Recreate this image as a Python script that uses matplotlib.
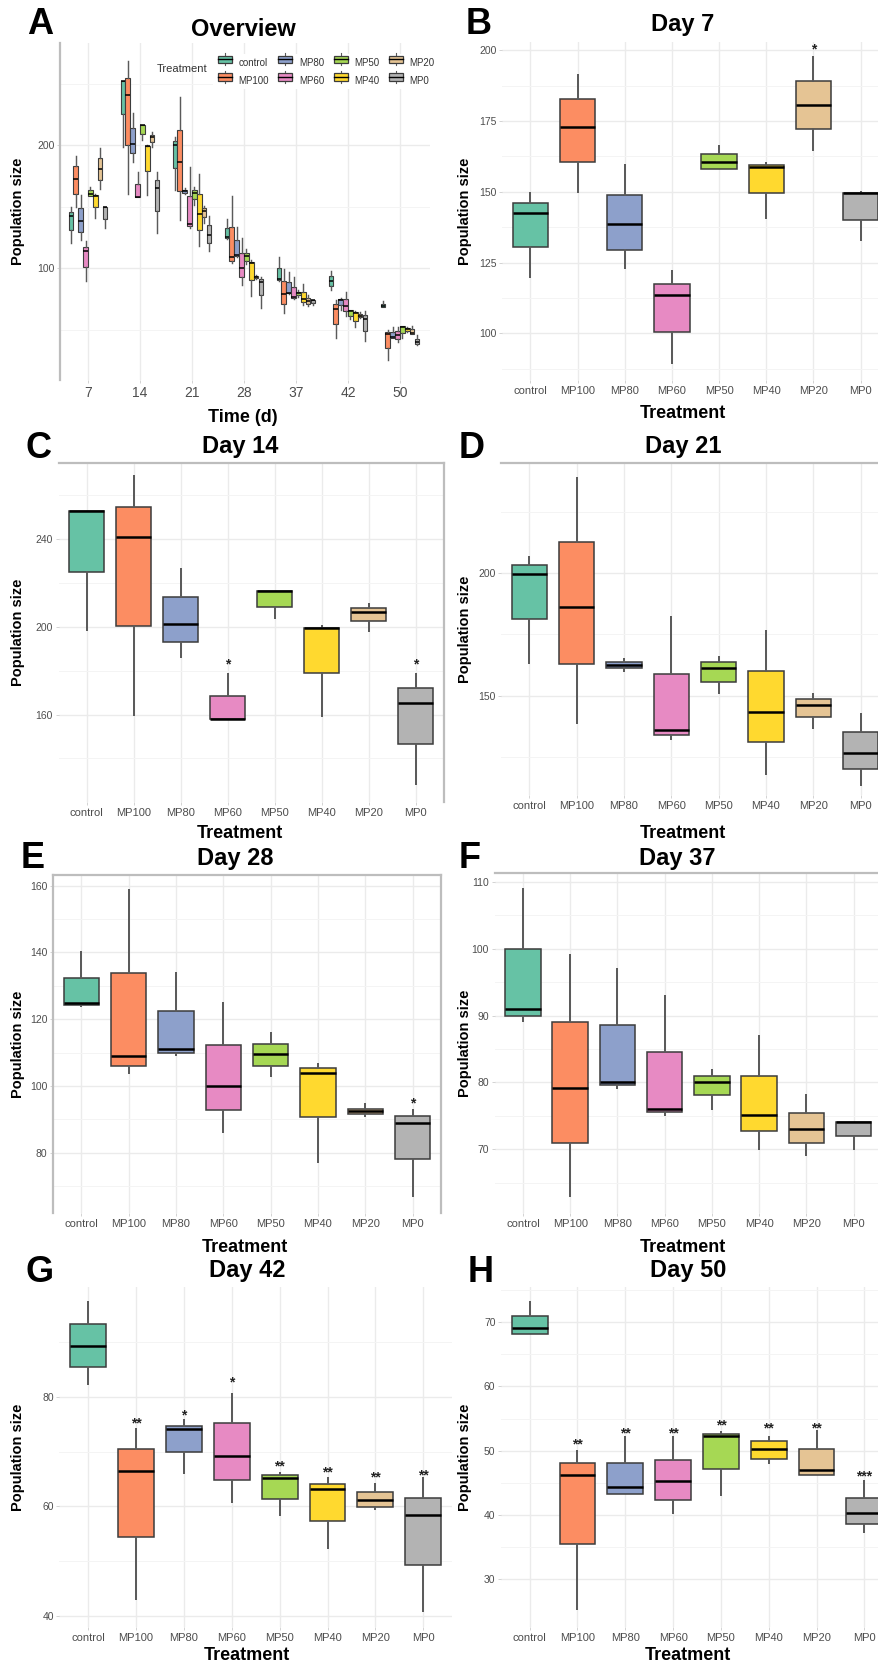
import matplotlib
matplotlib.use("Agg")
import matplotlib.pyplot as plt
from matplotlib.patches import Rectangle
from matplotlib.lines import Line2D
from matplotlib.legend_handler import HandlerBase

plt.rcParams['font.family'] = ['Liberation Sans', 'DejaVu Sans']

W, H = 879, 1666

treatments = ['control', 'MP100', 'MP80', 'MP60', 'MP50', 'MP40', 'MP20', 'MP0']
colors = ['#66C2A5', '#FC8D62', '#8DA0CB', '#E78AC3', '#A6D854', '#FFD92F', '#E5C494', '#B3B3B3']
days = [7, 14, 21, 28, 37, 42, 50]

# per treatment: [lower whisker, Q1, median, Q3, upper whisker]
day7 = [[120.0, 130.6, 142.4, 145.9, 149.4],
        [150.0, 160.6, 172.8, 182.6, 191.2],
        [122.9, 129.4, 138.5, 148.8, 159.4],
        [89.4, 100.6, 113.5, 117.4, 122.1],
        [158.2, 158.2, 160.6, 163.5, 166.2],
        [140.6, 149.6, 158.8, 159.6, 160.2],
        [164.7, 172.0, 180.6, 189.1, 197.6],
        [132.9, 140.0, 149.6, 149.6, 149.8]]
day14 = [[198.5, 225.1, 252.5, 252.5, 252.5],
         [160.0, 200.3, 240.8, 254.4, 268.4],
         [186.0, 193.2, 201.1, 213.7, 226.2],
         [157.9, 157.9, 157.9, 168.5, 178.4],
         [203.8, 209.1, 216.3, 216.3, 216.3],
         [159.2, 178.7, 199.2, 199.5, 200.3],
         [198.2, 202.6, 206.8, 208.4, 210.3],
         [128.2, 146.5, 165.3, 171.9, 178.4]]
day21 = [[163.3, 181.4, 199.7, 203.4, 206.5],
         [139.1, 162.9, 186.1, 212.5, 238.7],
         [160.3, 161.3, 162.6, 163.6, 164.9],
         [132.3, 134.1, 136.1, 159.0, 182.1],
         [151.1, 155.8, 161.3, 163.6, 166.0],
         [118.2, 131.0, 143.6, 160.3, 176.2],
         [136.8, 141.3, 146.3, 148.6, 150.8],
         [113.7, 120.1, 126.6, 135.1, 142.7]]
day28 = [[124.0, 124.3, 125.0, 132.5, 140.0],
         [104.0, 106.1, 109.1, 133.8, 158.7],
         [109.3, 110.0, 111.0, 122.5, 133.8],
         [86.2, 92.9, 100.1, 112.3, 124.8],
         [103.0, 106.0, 109.5, 112.6, 115.8],
         [77.2, 90.6, 103.8, 105.3, 106.6],
         [91.1, 91.6, 92.4, 93.2, 94.6],
         [67.2, 78.1, 88.9, 91.1, 92.9]]
day37 = [[89.2, 90.0, 91.0, 100.0, 108.9],
         [63.1, 71.0, 79.2, 89.1, 99.0],
         [79.2, 79.6, 80.0, 88.6, 97.0],
         [75.1, 75.6, 76.1, 84.5, 92.9],
         [76.1, 78.2, 80.0, 80.9, 81.9],
         [70.0, 72.7, 75.1, 80.9, 86.9],
         [69.1, 71.0, 73.1, 75.5, 78.1],
         [70.0, 72.0, 74.1, 74.1, 74.1]]
day42 = [[82.3, 85.4, 89.3, 93.4, 97.4],
         [43.1, 54.4, 66.4, 70.4, 74.2],
         [66.0, 69.9, 74.2, 74.7, 75.7],
         [60.8, 64.8, 69.1, 75.2, 80.6],
         [58.4, 61.3, 65.2, 65.7, 66.0],
         [52.3, 57.3, 63.2, 64.1, 65.1],
         [59.4, 59.9, 61.2, 62.6, 64.1],
         [40.8, 49.2, 58.4, 61.5, 65.1]]
day50 = [[68.2, 68.2, 69.1, 71.0, 73.1],
         [25.3, 35.4, 46.2, 48.0, 50.0],
         [43.2, 43.2, 44.3, 48.0, 52.1],
         [40.2, 42.3, 45.3, 48.5, 52.1],
         [43.1, 47.2, 52.2, 52.6, 52.9],
         [48.0, 48.7, 50.3, 51.5, 52.1],
         [46.2, 46.2, 47.0, 50.2, 53.0],
         [37.3, 38.6, 40.3, 42.6, 45.2]]

# significance labels and their heights
day7_sig = ['', '', '', '', '', '', '*', '']
day7_sig_y = [0, 0, 0, 0, 0, 0, 200.2, 0]
day14_sig = ['', '', '', '*', '', '', '', '*']
day14_sig_y = [0, 0, 0, 182.8, 0, 0, 0, 182.8]
day21_sig = [''] * 8
day21_sig_y = [0] * 8
day28_sig = ['', '', '', '', '', '', '', '*']
day28_sig_y = [0, 0, 0, 0, 0, 0, 0, 94.9]
day37_sig = [''] * 8
day37_sig_y = [0] * 8
day42_sig = ['', '**', '*', '*', '**', '**', '**', '**']
day42_sig_y = [0, 75.2, 76.6, 82.7, 67.3, 66.1, 65.2, 65.7]
day50_sig = ['', '**', '**', '**', '**', '**', '**', '***']
day50_sig_y = [0, 51.0, 52.7, 52.7, 53.9, 53.5, 53.5, 46.0]

all_days = [day7, day14, day21, day28, day37, day42, day50]

fig = plt.figure(figsize=(W / 100, H / 100), dpi=100)
fig.patch.set_facecolor('white')

GRID = '#EBEBEB'
TICK = '#4D4D4D'
BORDER = '#BDBDBD'


def rect(l, t, r, b):
    return [l / W, 1 - b / H, (r - l) / W, (b - t) / H]


def ftext(x, y, s, **kw):
    fig.text(x / W, 1 - y / H, s, ha='center', va='center', **kw)


def style(ax, yticks, yminor, spines):
    ax.set_facecolor('none')
    for side, sp in ax.spines.items():
        sp.set_visible(side in spines)
        sp.set_color(BORDER)
        sp.set_linewidth(1.6)
    ax.set_yticks(yticks)
    ax.set_yticks(yminor, minor=True)
    ax.grid(True, which='major', color=GRID, lw=1.0)
    ax.grid(True, which='minor', axis='y', color='#F4F4F4', lw=0.7)
    ax.set_axisbelow(True)
    ax.tick_params(which='major', length=2, width=0.6, color='#CCCCCC', labelcolor=TICK, pad=2)
    ax.tick_params(which='minor', length=0)


def draw_boxes(ax, data, positions, width, lw_box, lw_med):
    stats = [dict(whislo=d[0], q1=d[1], med=d[2], q3=d[3], whishi=d[4], fliers=[])
             for d in data]
    bp = ax.bxp(stats, positions=positions, widths=width, patch_artist=True,
                showfliers=False, showcaps=False, manage_ticks=False,
                boxprops=dict(edgecolor='#3C3C3C', linewidth=lw_box),
                medianprops=dict(color='black', linewidth=lw_med),
                whiskerprops=dict(color='#5A5A5A', linewidth=lw_box * 1.3))
    for patch, c in zip(bp['boxes'], colors):
        patch.set_facecolor(c)


# ---------------- panel A: overview ----------------
axA = fig.add_axes(rect(60, 43, 430, 380))
style(axA, [100, 200], [50, 150, 250], ['left'])
step = 0.75 / len(treatments)
for i, d in enumerate(all_days):
    pos = [i + (j - 3.5) * step for j in range(len(treatments))]
    draw_boxes(axA, d, pos, step * 0.95, 0.8, 1.1)
axA.set_xticks(range(len(days)))
axA.set_xticklabels([str(d) for d in days], fontsize=10)
axA.tick_params(axis='y', labelsize=7.5)
axA.set_xlim(-0.538, 6.577)
axA.set_ylim(9, 283)


class BoxKey(HandlerBase):
    def create_artists(self, legend, orig, xd, yd, w, h, fs, trans):
        c = orig.get_facecolor()
        x0, x1 = xd + w * 0.05, xd + w * 0.95
        y0, y1 = yd + h * 0.12, yd + h * 0.88
        xm = xd + w / 2
        return [Line2D([xm, xm], [yd - h * 0.1, yd + h * 1.1], color='#5A5A5A', lw=0.8, transform=trans),
                Rectangle((x0, y0), x1 - x0, y1 - y0, facecolor=c, edgecolor='#3C3C3C', lw=0.9, transform=trans),
                Line2D([x0, x1], [yd + h / 2] * 2, color='black', lw=1.0, transform=trans)]


handles = [Rectangle((0, 0), 1, 1, facecolor=c) for c in colors]
leg = axA.legend(handles, treatments, ncol=4, loc='upper left',
                 bbox_to_anchor=(208 / W, 1 - 49 / H), bbox_transform=fig.transFigure,
                 handler_map={Rectangle: BoxKey()}, fontsize=7, frameon=True,
                 handlelength=1.6, handleheight=1.2, handletextpad=0.6,
                 columnspacing=0.9, labelspacing=0.75, borderpad=0.4)
leg.get_frame().set_facecolor('white')
leg.get_frame().set_edgecolor('none')
leg.get_frame().set_alpha(1)
for t in leg.get_texts():
    t.set_color('#333333')
ftext(182, 69, 'Treatment', fontsize=8, color='#333333')

# ---------------- panels B-H ----------------
panels = [
    # letter, title, data, sig, sig_y, (l, t, r, b), ylim, yticks, yminor, spines
    ('B', 'Day 7', day7, day7_sig, day7_sig_y, (502, 42, 889, 380), (83.5, 202.9),
     [100, 125, 150, 175, 200], [87.5, 112.5, 137.5, 162.5, 187.5], []),
    ('C', 'Day 14', day14, day14_sig, day14_sig_y, (58.6, 463, 444, 802), (120.2, 274.5),
     [160, 200, 240], [140, 180, 220, 260], ['top', 'right']),
    ('D', 'Day 21', day21, day21_sig, day21_sig_y, (501, 463, 889, 795), (109.6, 244.8),
     [150, 200], [125, 175, 225], ['top']),
    ('E', 'Day 28', day28, day28_sig, day28_sig_y, (53, 875, 441, 1213), (62, 163.2),
     [80, 100, 120, 140, 160], [70, 90, 110, 130, 150], ['left', 'top', 'right']),
    ('F', 'Day 37', day37, day37_sig, day37_sig_y, (494.6, 873, 882, 1213), (60.5, 111.3),
     [70, 80, 90, 100, 110], [65, 75, 85, 95, 105], ['top']),
    ('G', 'Day 42', day42, day42_sig, day42_sig_y, (59.5, 1287, 452, 1627), (37.9, 100.1),
     [40, 60, 80], [50, 70, 90], []),
    ('H', 'Day 50', day50, day50_sig, day50_sig_y, (501, 1287, 893, 1627), (22.5, 75.5),
     [30, 40, 50, 60, 70], [35, 45, 55, 65, 75], []),
]

x = list(range(1, len(treatments) + 1))
for letter, title, data, sig, sig_y, (l, t, r, b), ylim, yt, ym, spines in panels:
    ax = fig.add_axes(rect(l, t, r, b))
    style(ax, yt, ym, spines)
    draw_boxes(ax, data, x, 0.75, 1.1, 1.8)
    for xi, s, sy in zip(x, sig, sig_y):
        if s:
            ax.text(xi, sy, s, ha='center', va='center', fontsize=10, fontweight='bold', color='#222222')
    ax.set_xticks(x)
    ax.set_xticklabels(treatments, fontsize=8)
    ax.tick_params(axis='y', labelsize=7.5)
    ax.set_xlim(0.4, 8.6)
    ax.set_ylim(*ylim)

# ---------------- titles, letters, axis labels ----------------
titles = [('Overview', 243, 30), ('Day 7', 683, 25), ('Day 14', 240, 447), ('Day 21', 683, 447),
          ('Day 28', 235, 858), ('Day 37', 677, 858), ('Day 42', 247, 1270), ('Day 50', 688, 1270)]
for s, tx, ty in titles:
    ftext(tx, ty, s, fontsize=17, fontweight='bold')

letters = [('A', 40, 25), ('B', 479, 25), ('C', 39, 449), ('D', 472, 448),
           ('E', 33, 858), ('F', 470, 858), ('G', 40, 1272), ('H', 481, 1272)]
for s, lx, ly in letters:
    ftext(lx, ly, s, fontsize=26, fontweight='bold')

for yc in [211, 632, 1044, 1457]:
    ftext(18, yc, 'Population size', fontsize=10.5, fontweight='bold', rotation=90)
for yc in [211, 629, 1043, 1457]:
    ftext(465, yc, 'Population size', fontsize=10.5, fontweight='bold', rotation=90)

ftext(243, 417, 'Time (d)', fontsize=13, fontweight='bold')
for xl, yl in [(683, 414), (240, 833), (683, 833), (245, 1247), (683, 1247), (247, 1655), (688, 1655)]:
    ftext(xl, yl, 'Treatment', fontsize=13, fontweight='bold')

fig.savefig('out.png', dpi=100, facecolor='white')
